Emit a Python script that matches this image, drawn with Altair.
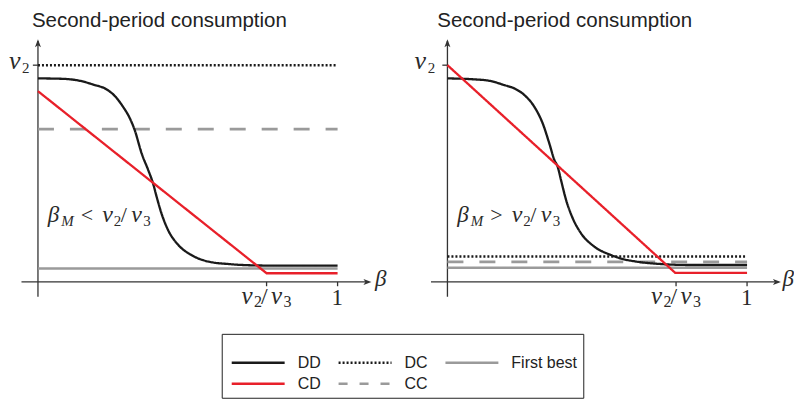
import altair as alt
import pandas as pd

# ---------------- data ----------------
# legend order is column-major: (DD, CD) (DC, CC) (First best)
series_order = ["DD", "CD", "DC", "CC", "First best"]
series_colors = ["#1a1a1a", "#e8202a", "#1a1a1a", "#9a9a9a", "#9a9a9a"]
legend_dash = [[1, 0], [1, 0], [2, 2], [9, 12], [1, 0]]
cc_chart_dash = [16, 16]

# left panel (beta_M < v2/v3)
dd_beta_left = [0.0, 0.084, 0.140, 0.190, 0.223, 0.257, 0.284, 0.307, 0.323, 0.346, 0.368,
                0.384, 0.396, 0.412, 0.434, 0.468, 0.512, 0.568, 0.640, 0.729, 0.807, 1.0]
dd_left = [0.939, 0.937, 0.928, 0.908, 0.893, 0.857, 0.808, 0.754, 0.700, 0.593, 0.516,
           0.455, 0.393, 0.317, 0.240, 0.171, 0.124, 0.094, 0.082, 0.076, 0.075, 0.075]
cd_beta_left = [0.0, 0.763, 1.0]
cd_left = [0.880, 0.040, 0.040]

# right panel (beta_M > v2/v3)
dd_beta_right = [0.0, 0.084, 0.140, 0.190, 0.223, 0.257, 0.290, 0.318, 0.340, 0.357, 0.368,
                 0.379, 0.396, 0.418, 0.446, 0.490, 0.546, 0.584, 0.629, 0.718, 0.807, 1.0]
dd_right = [0.939, 0.935, 0.928, 0.908, 0.893, 0.862, 0.808, 0.731, 0.639, 0.562, 0.531,
            0.470, 0.378, 0.294, 0.224, 0.163, 0.124, 0.106, 0.094, 0.082, 0.078, 0.078]
cd_beta_right = [0.0, 0.760, 1.0]
cd_right = [1.0, 0.042, 0.042]

dc_level = {"left": 1.0, "right": 0.117}
cc_level = {"left": 0.705, "right": 0.092}
fb_level = {"left": 0.062, "right": 0.065}
kink = 0.763  # position of v2/v3 on the beta axis

# ---------------- layout constants ----------------
PX = 300.0   # pixels per beta unit
PY = 217.0   # pixels per consumption unit
H = 312
YMAX = 274 / PY
YMIN = YMAX - H / PY
AXIS_COLOR = "#333333"
MATH_COLOR = "#2a2a2a"
SANS = "Liberation Sans"
SERIF = "Liberation Serif"

rows = []
for panel, bx, by in [("left", dd_beta_left, dd_left), ("right", dd_beta_right, dd_right)]:
    rows += [dict(panel=panel, series="DD", beta=b, value=v) for b, v in zip(bx, by)]
for panel, bx, by in [("left", cd_beta_left, cd_left), ("right", cd_beta_right, cd_right)]:
    rows += [dict(panel=panel, series="CD", beta=b, value=v) for b, v in zip(bx, by)]
for panel in ["left", "right"]:
    for name, lev in [("DC", dc_level), ("CC", cc_level), ("First best", fb_level)]:
        rows += [dict(panel=panel, series=name, beta=b, value=lev[panel]) for b in (0.0, 1.0)]
lines = pd.DataFrame(rows)

axis_rows = []
for panel in ["left", "right"]:
    axis_rows += [
        dict(panel=panel, x=-0.055, x2=1.105, y=0.0, y2=0.0),   # beta axis
        dict(panel=panel, x=0.0, x2=0.0, y=-0.069, y2=1.112),   # consumption axis
        dict(panel=panel, x=-0.017, x2=0.0, y=1.0, y2=1.0),     # v2 tick
        dict(panel=panel, x=kink, x2=kink, y=-0.02, y2=0.0),    # v2/v3 tick
        dict(panel=panel, x=1.0, x2=1.0, y=-0.02, y2=0.0),      # 1 tick
    ]
axes_df = pd.DataFrame(axis_rows)


def pieces(panel, x0, y0, parts):
    out = []
    for t, dx, dy, s, st in parts:
        out.append(dict(panel=panel, x=x0 + dx / PX, y=y0 - dy / PY, text=t, size=s, style=st))
    return out


label_rows = []
for panel, rel, vx, bx in [("left", "<", -0.097, 1.125), ("right", ">", -0.11, 1.118)]:
    label_rows += pieces(panel, vx, 0.984, [("v", 0, 0, 26, "italic"), ("2", 13.2, 4, 15, "normal")])
    label_rows += pieces(panel, kink - 25 / PX, -0.101, [
        ("v", 0, 0, 25, "italic"), ("2", 12.5, 3.5, 16, "normal"), ("/", 19.5, 0, 24, "normal"),
        ("v", 29.5, 0, 25, "italic"), ("3", 42, 3.5, 16, "normal")])
    label_rows += pieces(panel, 1 - 6 / PX, -0.106, [("1", 0, 0, 23, "normal")])
    label_rows += pieces(panel, bx, -0.018, [("β", 0, 0, 23, "italic")])
    label_rows += pieces(panel, 0.033, 0.276, [
        ("β", 0, 0, 23, "italic"), ("M", 13.5, 4, 15, "italic"), (rel, 33, 0, 22, "normal"),
        ("v", 54.5, 0, 24, "italic"), ("2", 66, 4, 15, "normal"), ("/", 73, 0, 22, "normal"),
        ("v", 83.5, 0, 24, "italic"), ("3", 95.5, 4, 15, "normal")])
labels = pd.DataFrame(label_rows)

titles = pd.DataFrame([
    dict(panel="left", x=-0.02, y=1.178, text="Second-period consumption"),
    dict(panel="right", x=-0.034, y=1.178, text="Second-period consumption"),
])

color_scale = alt.Scale(domain=series_order, range=series_colors)
dash_scale = alt.Scale(domain=series_order, range=legend_dash)

legend = alt.Legend(
    title=" ", titleFontSize=13, titlePadding=2, orient="none", legendX=214, legendY=326,
    columns=3, symbolType="M-1,0H12.25", symbolSize=64, symbolStrokeWidth=2.5,
    labelFont=SANS, labelFontSize=16, labelColor="#222222", labelOffset=54,
    columnPadding=12, rowPadding=5, padding=6,
    strokeColor="#222222", fillColor="white",
)


def panel(p, width, xmin):
    xs = alt.Scale(domain=[xmin, xmin + width / PX], nice=False, zero=False)
    ys = alt.Scale(domain=[YMIN, YMAX], nice=False, zero=False)

    def xy(xf="x", yf="y"):
        return dict(x=alt.X(f"{xf}:Q", scale=xs, axis=None), y=alt.Y(f"{yf}:Q", scale=ys, axis=None))

    layers = []
    ax = axes_df[axes_df.panel == p]
    layers.append(alt.Chart(ax).mark_rule(color=AXIS_COLOR, strokeWidth=1.3).encode(
        x2="x2:Q", y2="y2:Q", **xy()))
    up = pd.DataFrame([dict(x=0.0, y=1.12)])
    right = pd.DataFrame([dict(x=1.113, y=0.0)])
    layers.append(alt.Chart(up).mark_point(
        shape="M0,0L0.75,2L0,1.5L-0.75,2Z", filled=True, size=64, color=AXIS_COLOR, opacity=1
    ).encode(**xy()))
    layers.append(alt.Chart(right).mark_point(
        shape="M0,0L-2,-0.75L-1.5,0L-2,0.75Z", filled=True, size=64, color=AXIS_COLOR, opacity=1
    ).encode(**xy()))

    def series_layer(names, sw, interp="linear", fixed_dash=None):
        d = lines[(lines.panel == p) & (lines.series.isin(names))]
        enc = dict(color=alt.Color("series:N", scale=color_scale, legend=legend), **xy("beta", "value"))
        kw = dict(strokeWidth=sw, interpolate=interp, strokeCap="butt")
        if fixed_dash is None:
            enc["strokeDash"] = alt.StrokeDash("series:N", scale=dash_scale, legend=legend)
        else:
            kw["strokeDash"] = fixed_dash
        return alt.Chart(d).mark_line(**kw).encode(**enc)

    layers.append(series_layer(["First best"], 2.5))
    layers.append(series_layer(["CC"], 2.8, fixed_dash=cc_chart_dash))
    layers.append(series_layer(["DC"], 2.5))
    layers.append(series_layer(["DD"], 2.3, "monotone"))
    layers.append(series_layer(["CD"], 2.3))

    lab = labels[labels.panel == p]
    for st in ["italic", "normal"]:
        layers.append(alt.Chart(lab[lab["style"] == st]).mark_text(
            font=SERIF, fontStyle=st, align="left", baseline="alphabetic", color=MATH_COLOR
        ).encode(text="text:N", size=alt.Size("size:Q", scale=None), **xy()))
    layers.append(alt.Chart(titles[titles.panel == p]).mark_text(
        font=SANS, fontSize=20.5, align="left", baseline="alphabetic", color="#222222"
    ).encode(text="text:N", **xy()))
    return alt.layer(*layers).properties(width=width, height=H)


left_panel = panel("left", 390, -0.1)
right_panel = panel("right", 376, -0.1)

chart = alt.hconcat(left_panel, right_panel, spacing=20, bounds="flush").properties(
    padding=0
).configure_view(stroke=None)

chart.save("out.html", embed_options={"renderer": "svg", "actions": False})
